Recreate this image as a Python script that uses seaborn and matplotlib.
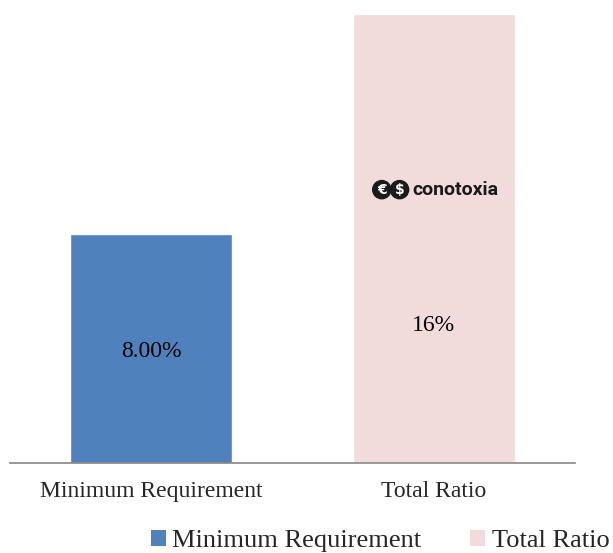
import matplotlib
matplotlib.use("Agg")
import matplotlib.pyplot as plt
import seaborn as sns
import pandas as pd
from matplotlib.patches import Patch

categories = ["Minimum Requirement", "Total Ratio"]
values = [8.0, 15.7]
value_labels = ["8.00%", "16%"]
label_heights = [3.9, 4.8]
colors = ["#4F81BD", "#F2DCDB"]

df = pd.DataFrame({"category": categories, "value": values})

sns.set_style("white")
plt.rcParams["font.family"] = ["Liberation Serif", "DejaVu Serif"]

fig = plt.figure(figsize=(6.13, 5.53), dpi=100)
ax = fig.add_axes([10 / 613, 1 - 463 / 553, 565 / 613, 458 / 553])

sns.barplot(data=df, x="category", y="value", hue="category",
            palette=colors, width=0.575, legend=False, ax=ax, saturation=1)

ax.set_xlim(-0.5, 1.5)
ax.set_ylim(0, 16)
ax.set_xlabel("")
ax.set_ylabel("")
ax.set_yticks([])
ax.tick_params(axis="x", length=0, labelsize=17, pad=13)
for s in ["top", "left", "right"]:
    ax.spines[s].set_visible(False)
ax.spines["bottom"].set_color("#868686")
ax.spines["bottom"].set_linewidth(1.2)

for i, (lab, h) in enumerate(zip(value_labels, label_heights)):
    ax.text(i, h, lab, ha="center", va="center", fontsize=17, color="black")

# watermark logo
ax.text(0.816, 9.55, "€", ha="center", va="center", fontsize=10, color="white",
        family="DejaVu Sans", weight="bold",
        bbox=dict(boxstyle="circle,pad=0.15", fc="#1a1a1a", ec="#1a1a1a"))
ax.text(0.879, 9.55, "$", ha="center", va="center", fontsize=10, color="white",
        family="DejaVu Sans", weight="bold",
        bbox=dict(boxstyle="circle,pad=0.15", fc="#1a1a1a", ec="#1a1a1a"))
ax.text(0.925, 9.55, "conotoxia", ha="left", va="center", fontsize=14,
        color="#1a1a1a", family="Roboto", weight="bold", stretch="condensed")

handles = [Patch(facecolor=c, edgecolor="none") for c in colors]
fig.legend(handles, categories, loc="center", bbox_to_anchor=(380 / 613, 1 - 541 / 553),
           ncol=2, frameon=False, fontsize=19, handlelength=0.57, handleheight=0.57,
           handletextpad=0.25, columnspacing=1.85, borderaxespad=0)

fig.savefig("out.png", dpi=100)
